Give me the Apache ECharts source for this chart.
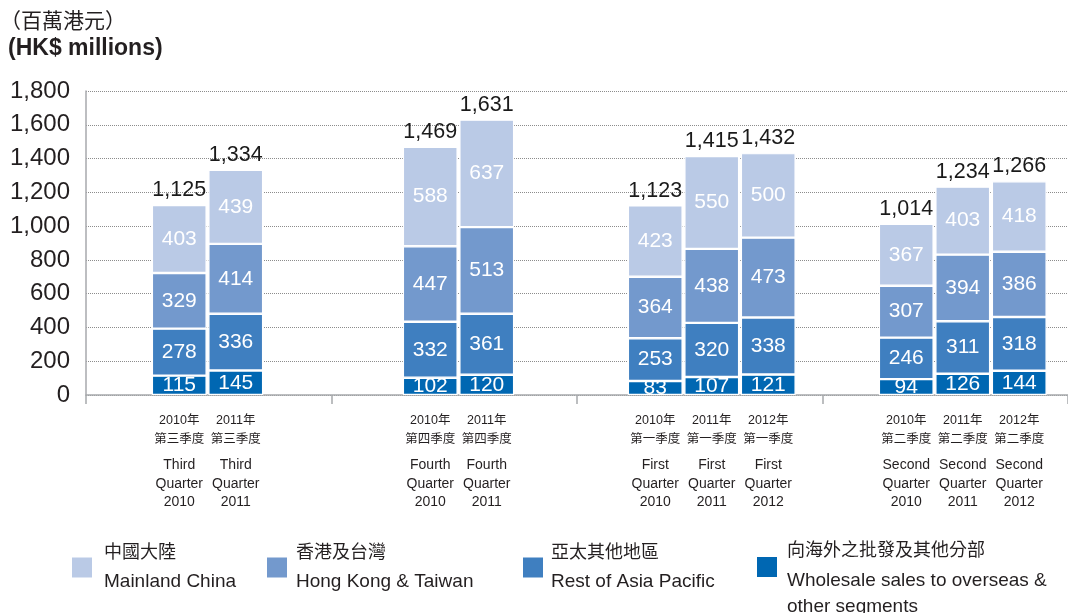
<!DOCTYPE html>
<html>
<head>
<meta charset="utf-8">
<script src="https://cdn.jsdelivr.net/npm/echarts@6/dist/echarts.min.js"></script>
<style>
  html, body { margin: 0; padding: 0; background: #fff; }
  #chart { width: 1068px; height: 613px; }
</style>
</head>
<body>
<div id="chart"></div>
<script>
// bars, in drawing order (four quarter groups)
const yearsCn = ['2010年', '2011年', '2010年', '2011年', '2010年', '2011年', '2012年', '2010年', '2011年', '2012年'];
const quartersCn = ['第三季度', '第三季度', '第四季度', '第四季度', '第一季度', '第一季度', '第一季度', '第二季度', '第二季度', '第二季度'];
const quartersEn = ['Third', 'Third', 'Fourth', 'Fourth', 'First', 'First', 'First', 'Second', 'Second', 'Second'];
const years = ['2010', '2011', '2010', '2011', '2010', '2011', '2012', '2010', '2011', '2012'];
const groupSizes = [2, 2, 3, 3];

// HK$ millions, bottom segment first
const wholesale = [115, 145, 102, 120, 83, 107, 121, 94, 126, 144];
const restOfAsia = [278, 336, 332, 361, 253, 320, 338, 246, 311, 318];
const hkTaiwan = [329, 414, 447, 513, 364, 438, 473, 307, 394, 386];
const mainland = [403, 439, 588, 637, 423, 550, 500, 367, 403, 418];
const totals = [1125, 1334, 1469, 1631, 1123, 1415, 1432, 1014, 1234, 1266];

const segmentNames = ['Wholesale sales to overseas & other segments', 'Rest of Asia Pacific', 'Hong Kong & Taiwan', 'Mainland China'];
const segmentNamesCn = ['向海外之批發及其他分部', '亞太其他地區', '香港及台灣', '中國大陸'];
const segmentData = [wholesale, restOfAsia, hkTaiwan, mainland];

const yMin = 0, yMax = 1800, yStep = 200;

// styling
const colors = ['#0067b2', '#3f7fc0', '#7399cd', '#bacae6'];
const FONT = "'Liberation Sans', Arial, 'Noto Sans CJK TC', sans-serif";
const TEXT = '#231f20';
const AXIS = '#a7a9ac';

const plotTop = 91, plotHeight = 304;
const groupLefts = [151, 402, 627, 878];
const slot = 56.5;

const fmt = v => String(v).replace(/\B(?=(\d{3})+(?!\d))/g, ',');

const chart = echarts.init(document.getElementById('chart'));

const grids = [{ left: 86, top: plotTop, width: 996, height: plotHeight }];
const xAxes = [{
  gridIndex: 0,
  type: 'category',
  data: ['', '', '', ''],
  axisLine: { lineStyle: { color: AXIS, width: 1.5 } },
  axisTick: { show: true, length: 9, lineStyle: { color: AXIS, width: 1.5 } },
  axisLabel: { show: false },
  splitLine: { show: false }
}];
const yAxes = [{
  gridIndex: 0,
  type: 'value',
  min: yMin, max: yMax, interval: yStep,
  axisLine: { show: true, lineStyle: { color: AXIS, width: 1.5 } },
  axisTick: { show: false },
  axisLabel: { formatter: fmt, fontSize: 24, color: TEXT, fontFamily: FONT, margin: 16 },
  splitLine: { show: true, lineStyle: { type: 'dotted', color: '#8c8c8c', width: 1 } }
}];
const series = [];

let start = 0;
groupSizes.forEach((n, g) => {
  const idx = g + 1;
  const first = start;
  grids.push({ left: groupLefts[g], top: plotTop, width: n * slot, height: plotHeight });
  xAxes.push({
    gridIndex: idx,
    type: 'category',
    data: years.slice(first, first + n).map((y, i) => quartersEn[first + i] + y),
    axisLine: { show: false },
    axisTick: { show: false },
    axisLabel: {
      interval: 0,
      margin: 16,
      formatter: (v, i) => {
        const k = first + i;
        return '{c|' + yearsCn[k] + '}\n{c|' + quartersCn[k] + '}\n{s| }\n{e|' +
          quartersEn[k] + '}\n{e|Quarter}\n{e|' + years[k] + '}';
      },
      rich: {
        c: { fontSize: 12.5, lineHeight: 19, color: TEXT, fontFamily: FONT },
        s: { fontSize: 6, lineHeight: 7 },
        e: { fontSize: 14, lineHeight: 18.5, color: TEXT, fontFamily: FONT }
      }
    }
  });
  yAxes.push({ gridIndex: idx, type: 'value', min: yMin, max: yMax, show: false });

  segmentData.forEach((arr, s) => {
    series.push({
      type: 'bar',
      name: segmentNames[s],
      xAxisIndex: idx,
      yAxisIndex: idx,
      stack: 'q' + g,
      barCategoryGap: '3%',
      data: arr.slice(first, first + n),
      itemStyle: { color: colors[s], borderColor: '#fff', borderWidth: 1.2 },
      label: {
        show: true, position: 'inside', color: '#fff', fontSize: 21,
        fontFamily: FONT, textBorderWidth: 0
      },
      emphasis: { disabled: true }
    });
  });
  series.push({
    type: 'bar',
    name: 'total',
    xAxisIndex: idx,
    yAxisIndex: idx,
    barGap: '-100%',
    barCategoryGap: '3%',
    data: totals.slice(first, first + n),
    itemStyle: { color: 'rgba(0,0,0,0)' },
    label: {
      show: true, position: 'top', distance: 4, color: '#1a1a1a', fontSize: 21.5,
      fontFamily: FONT, formatter: p => fmt(p.value)
    },
    silent: true,
    z: 1
  });
  start += n;
});

// legend: Mainland, HK & Taiwan, Rest of Asia, Wholesale
const legendOrder = [3, 2, 1, 0];
const legendLefts = [70, 265, 521, 755];
const legendGaps = [6, 3, 2, 4];
const legends = legendOrder.map((s, i) => {
  const last = s === 0;
  return {
    data: [segmentNames[s]],
    left: legendLefts[i],
    top: last ? 521 : 544,
    padding: 0,
    icon: 'rect',
    itemWidth: 22,
    itemHeight: 22,
    selectedMode: false,
    formatter: () => {
      if (last) {
        return '{g| }\n{c|' + segmentNamesCn[s] + '}\n{e|Wholesale sales to overseas &}\n{f|other segments}';
      }
      return '{c|' + segmentNamesCn[s] + '}\n{e|' + segmentNames[s] + '}';
    },
    textStyle: {
      padding: [0, 0, 0, legendGaps[i]],
      rich: {
        g: { fontSize: 10, lineHeight: 22 },
        c: { fontSize: 18, lineHeight: 29, color: TEXT, fontFamily: FONT },
        e: { fontSize: 19, lineHeight: 29, color: TEXT, fontFamily: FONT },
        f: { fontSize: 19, lineHeight: 24, color: TEXT, fontFamily: FONT }
      }
    }
  };
});

chart.setOption({
  animation: false,
  backgroundColor: '#fff',
  title: [
    { text: '（百萬港元）', left: 0, top: 12, padding: 0, textStyle: { fontSize: 21, fontWeight: 'normal', color: TEXT, fontFamily: FONT } },
    { text: '(HK$ millions)', left: 8, top: 37, padding: 0, textStyle: { fontSize: 23, fontWeight: 'bold', color: TEXT, fontFamily: FONT } }
  ],
  legend: legends,
  grid: grids,
  xAxis: xAxes,
  yAxis: yAxes,
  series: series
});
</script>
</body>
</html>
